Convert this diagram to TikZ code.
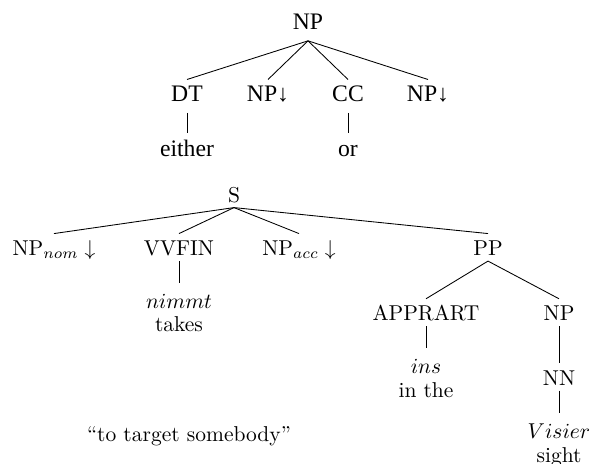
\documentclass[tikz,border=0pt]{standalone}
\usepackage{fontspec}
\newfontfamily\timesf{Liberation Serif}
\begin{document}
\begin{tikzpicture}[x=0.465pt,y=-0.465pt,
  tfont/.style={font=\timesf\fontsize{11}{13}\selectfont},
  tlab/.style={tfont, inner sep=0pt, anchor=base, text height=9.8pt, text depth=5.3pt},
  tleaf/.style={tfont, inner sep=0pt, anchor=base, text height=10.7pt, text depth=0pt},
  blab/.style={inner sep=0pt, anchor=base, text height=10pt, text depth=2.4pt},
  bleaf/.style={font=\fontsize{10}{11}\selectfont, inner xsep=0pt, inner ysep=4.9pt, anchor=north, align=center},
  branch/.style={line width=0.4pt}]
\useasboundingbox (0,0) rectangle (590,463);
% top tree
\node[tlab] (tnp) at (308,29) {NP};
\node[tlab] (tdt) at (187,101) {DT};
\node[tlab] (tnpa) at (268,101) {NP↓};
\node[tlab] (tcc) at (348,101) {CC};
\node[tlab] (tnpb) at (428,101) {NP↓};
\node[tleaf] (teither) at (187,156) {either};
\node[tleaf] (tor) at (348,156) {or};
\draw[branch] (tnp.south) -- (tdt.north);
\draw[branch] (tnp.south) -- (tnpa.north);
\draw[branch] (tnp.south) -- (tcc.north);
\draw[branch] (tnp.south) -- (tnpb.north);
\draw[branch] (tdt.south) -- (teither.north);
\draw[branch] (tcc.south) -- (tor.north);
% bottom tree
\node[blab] (s) at (234,202) {S};
\node[blab] (npnom) at (54,255.5) {NP$_{nom}\downarrow$};
\node[blab] (vvfin) at (179,255.5) {VVFIN};
\node[blab] (npacc) at (299,255.5) {NP$_{acc}\downarrow$};
\node[blab] (pp) at (488,255.5) {PP};
\node[blab] (apprart) at (426,320.7) {APPRART};
\node[blab] (np) at (559,320.7) {NP};
\node[blab] (nn) at (559,385) {NN};
\node[bleaf] (nimmt) at (179,283) {$nimmt$\\takes};
\node[bleaf] (ins) at (426,348.3) {$ins$\\in the};
\node[bleaf] (visier) at (559,413.3) {$Visier$\\sight};
\node[inner sep=0pt, anchor=base] (gloss) at (189,441.7) {``to target somebody''};
\draw[branch] (s.south) -- (npnom.north);
\draw[branch] (s.south) -- (vvfin.north);
\draw[branch] (s.south) -- (npacc.north);
\draw[branch] (s.south) -- (pp.north);
\draw[branch] (vvfin.south) -- (nimmt.north);
\draw[branch] (pp.south) -- (apprart.north);
\draw[branch] (pp.south) -- (np.north);
\draw[branch] (apprart.south) -- (ins.north);
\draw[branch] (np.south) -- (nn.north);
\draw[branch] (nn.south) -- (visier.north);
\end{tikzpicture}
\end{document}
